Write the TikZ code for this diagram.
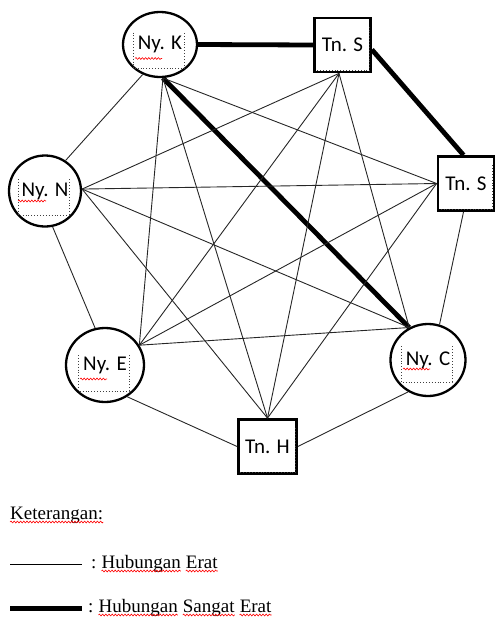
\documentclass[tikz,border=0pt]{standalone}
\usepackage{fontspec}
\setmainfont{Liberation Serif}
\newfontfamily\nodefont{Carlito}
\usetikzlibrary{shapes.geometric,decorations.pathmorphing,calc}
\tikzset{
  circnode/.style={ellipse, draw, line width=2.3pt, inner sep=0pt, font=\nodefont\fontsize{21}{24}\selectfont},
  boxnode/.style={rectangle, draw, line width=2.8pt, inner sep=0pt, minimum width=56pt, minimum height=54pt, font=\nodefont\fontsize{21}{24}\selectfont},
  thinline/.style={line width=0.9pt, black!85},
  thickline/.style={line width=4.8pt, black},
  dotbox/.style={dotted, line width=0.9pt, black!75},
  spellwave/.style={red, line width=0.6pt, decorate, decoration={snake, segment length=3.2pt, amplitude=0.9pt}},
  legendtext/.style={anchor=base west, inner sep=0pt, font=\fontsize{19}{22}\selectfont}
}
\begin{document}
\begin{tikzpicture}[x=1pt,y=-1pt]
\useasboundingbox (0,0) rectangle (497,619);
% nodes
\node[circnode, minimum width=74pt, minimum height=65pt] (K) at (160,44.5) {\raisebox{-3pt}{Ny. K}};
\node[boxnode] (S1) at (342.5,45) {Tn. S};
\node[circnode, minimum width=72pt, minimum height=71pt] (N) at (45,191) {Ny. N};
\node[boxnode] (S2) at (466,183.5) {Tn. S};
\node[circnode, minimum width=78pt, minimum height=74pt] (E) at (105,365) {\raisebox{-3pt}{Ny. E}};
\node[circnode, minimum width=75pt, minimum height=72pt] (C) at (428,360) {\raisebox{2pt}{Ny. C}};
\node[boxnode, minimum width=58pt] (H) at (267.5,446.5) {Tn. H};

% dotted text boxes inside circles
\foreach \n/\dy in {K/0,N/0,E/2,C/-2}{
  \draw[dotbox] ($(\n)+(-27,-12+\dy)$) -- ($(\n)+(-27,24+\dy)$) -- ($(\n)+(24,24+\dy)$) -- ($(\n)+(24,-12+\dy)$);
}
% dotted inner edges of boxes
\foreach \n in {S1,S2,H}{
  \draw[dotbox] ($(\n.north east)+(-2.5,10)$) -- ($(\n.south east)+(-2.5,-2.5)$) -- ($(\n.south west)+(2.5,-2.5)$);
}
% spell-check waves
\draw[spellwave] ($(K)+(-25,14)$) -- ($(K)+(2,14)$);
\draw[spellwave] ($(N)+(-27,10)$) -- ($(N)+(1,10)$);
\draw[spellwave] ($(E)+(-25,14)$) -- ($(E)+(2,14)$);
\draw[spellwave] ($(C)+(-25,9)$) -- ($(C)+(2,9)$);

% ring edges
\draw[thickline] (K.east) -- (S1.west);
\draw[thickline] (S1.-9) -- (S2.95);
\draw[thinline] (S2.265) -- (C.72);
\draw[thinline] (C.238) -- (H.east);
\draw[thinline] (H.west) -- (E.-55);
\draw[thinline] (E.105) -- (N.-78);
\draw[thinline] (N.56) -- (K.240);

% diagonals
\draw[thickline] (K.-85) -- (C.120);
\draw[thinline] (K.-85) -- (S2.west);
\draw[thinline] (K.-85) -- (H.north);
\draw[thinline] (K.-85) -- (E.30);
\draw[thinline] (S1.263) -- (N.3);
\draw[thinline] (S1.263) -- (E.30);
\draw[thinline] (S1.263) -- (H.north);
\draw[thinline] (S1.263) -- (C.120);
\draw[thinline] (N.3) -- (S2.west);
\draw[thinline] (N.3) -- (C.120);
\draw[thinline] (N.3) -- (H.north);
\draw[thinline] (S2.west) -- (E.30);
\draw[thinline] (S2.west) -- (H.north);
\draw[thinline] (C.120) -- (E.30);

% legend
\node[legendtext] (ket) at (10,519) {Keterangan:};
\draw[spellwave] ([yshift=-3pt]ket.base west) -- ([yshift=-3pt]ket.base east);

\coordinate (l1a) at (10,564);
\coordinate (l1b) at (82,564);
\draw[line width=1pt, black] (l1a) -- (l1b);
\node[legendtext] (c1) at (91,568) {:};
\node[legendtext] (h1) at ($(c1.base east)+(4.75,0)$) {Hubungan};
\node[legendtext] (e1) at ($(h1.base east)+(4.75,0)$) {Erat};

\coordinate (l2a) at (10,608);
\coordinate (l2b) at (82,608);
\draw[line width=5pt, black] (l2a) -- (l2b);
\node[legendtext] (c2) at (88,612) {:};
\node[legendtext] (h2) at ($(c2.base east)+(4.75,0)$) {Hubungan};
\node[legendtext] (s2) at ($(h2.base east)+(4.75,0)$) {Sangat};
\node[legendtext] (e2) at ($(s2.base east)+(4.75,0)$) {Erat};

\foreach \w in {h1,e1,h2,s2,e2}{
  \draw[spellwave] ([yshift=-3pt]\w.base west) -- ([yshift=-3pt]\w.base east);
}
\end{tikzpicture}
\end{document}
